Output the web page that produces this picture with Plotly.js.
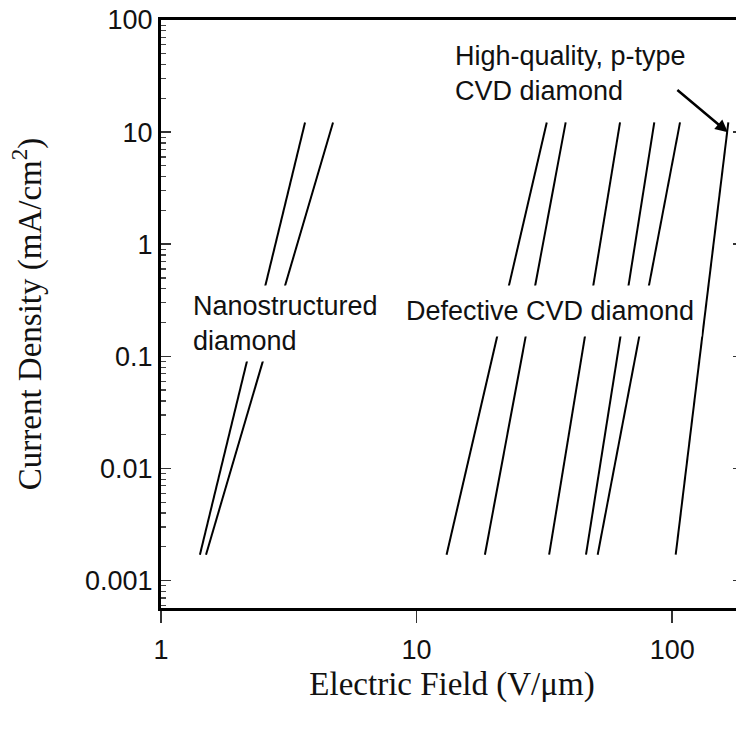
<!DOCTYPE html>
<html>
<head>
<meta charset="utf-8">
<script src="https://cdn.plot.ly/plotly-3.0.1.min.js"></script>
<style>
html,body{margin:0;padding:0;overflow:hidden;background:#fff;}
#chart{width:750px;height:732px;}
</style>
</head>
<body>
<div id="chart"></div>
<script>
// Electric field (V/um) at the low and high current-density ends of each line
const nanoLow = [1.42, 1.50];
const nanoHigh = [3.66, 4.71];
const defectLow = [13.1, 18.5, 33.0, 46.0, 51.1];
const defectHigh = [32.3, 38.3, 62.5, 85.1, 107.3];
const hqLow = [103.2];
const hqHigh = [165.8];
// Current density (mA/cm^2) at the two ends
const jLow = 0.0017;
const jHigh = 12.2;

const yTickVals = [0.001, 0.01, 0.1, 1, 10, 100];
const yTickText = ['0.001', '0.01', '0.1', '1', '10', '100'];
const xTickVals = [1, 10, 100];
const xTickText = ['1', '10', '100'];

const labelNano = 'Nanostructured<br>diamond';
const labelDefect = 'Defective CVD diamond';
const labelHQ = 'High-quality, p-type<br>CVD diamond';

const traces = [];
function addLines(lows, highs, name) {
  lows.forEach((lo, i) => {
    traces.push({
      x: [lo, highs[i]], y: [jLow, jHigh],
      mode: 'lines', type: 'scatter', name: name,
      line: {color: '#000', width: 2}, showlegend: false, hoverinfo: 'skip'
    });
  });
}
addLines(nanoLow, nanoHigh, 'Nanostructured diamond');
addLines(defectLow, defectHigh, 'Defective CVD diamond');
addLines(hqLow, hqHigh, 'High-quality, p-type CVD diamond');

const sans = 'Liberation Sans, Arial, Helvetica, sans-serif';
const serif = 'Liberation Serif, Times New Roman, serif';

const layout = {
  width: 750, height: 732,
  margin: {l: 161, r: 7, t: 20, b: 123.5},
  paper_bgcolor: '#fff', plot_bgcolor: '#fff',
  showlegend: false,
  font: {family: sans, size: 27, color: '#111'},
  xaxis: {
    type: 'log', range: [0, 2.277], autorange: false,
    tickmode: 'array', tickvals: xTickVals, ticktext: xTickText,
    ticks: 'outside', ticklen: 12, tickwidth: 1.5, tickcolor: '#333',
    ticklabelstandoff: 4,
    showline: true, linewidth: 3, linecolor: '#000', mirror: true,
    showgrid: false, zeroline: false,
    tickfont: {family: sans, size: 27, color: '#111'},
    title: {text: 'Electric Field (V/\u03bcm)', font: {family: serif, size: 33, color: '#111'}, standoff: 8}
  },
  yaxis: {
    type: 'log', range: [-3.245, 2], autorange: false,
    tickmode: 'array', tickvals: yTickVals, ticktext: yTickText,
    ticks: 'inside', ticklen: 10, tickwidth: 1.5, tickcolor: '#333',
    minor: {ticks: 'inside', ticklen: 5, tickwidth: 1.2, tickcolor: '#444', dtick: 'D1', showgrid: false},
    showline: true, linewidth: 3, linecolor: '#000', mirror: 'ticks',
    showgrid: false, zeroline: false,
    tickfont: {family: sans, size: 27, color: '#111'},
    title: {text: 'Current Density (mA/cm<sup>2</sup>)', font: {family: serif, size: 33, color: '#111'}, standoff: 34}
  },
  annotations: [
    {xref: 'paper', yref: 'paper', x: 0.218, y: 0.483, xanchor: 'center', yanchor: 'middle',
     text: labelNano, showarrow: false, align: 'left', width: 190, height: 73,
     bgcolor: '#fff', font: {family: sans, size: 27, color: '#111'}},
    {xref: 'paper', yref: 'paper', x: 0.668, y: 0.5054, xanchor: 'center', yanchor: 'middle',
     text: labelDefect, showarrow: false, width: 300, height: 48,
     bgcolor: '#fff', font: {family: sans, size: 27, color: '#111'}},
    {xref: 'paper', yref: 'paper', x: 0.704, y: 0.909, xanchor: 'center', yanchor: 'middle',
     text: labelHQ, showarrow: false, align: 'left',
     font: {family: sans, size: 27, color: '#111'}},
    {xref: 'paper', yref: 'paper', x: 0.974, y: 0.809, text: ' ', showarrow: true,
     ax: -56, ay: -47, arrowhead: 2, arrowsize: 1, arrowwidth: 2.5, arrowcolor: '#000'}
  ]
};

Plotly.newPlot('chart', traces, layout, {staticPlot: true, displayModeBar: false});
</script>
</body>
</html>
